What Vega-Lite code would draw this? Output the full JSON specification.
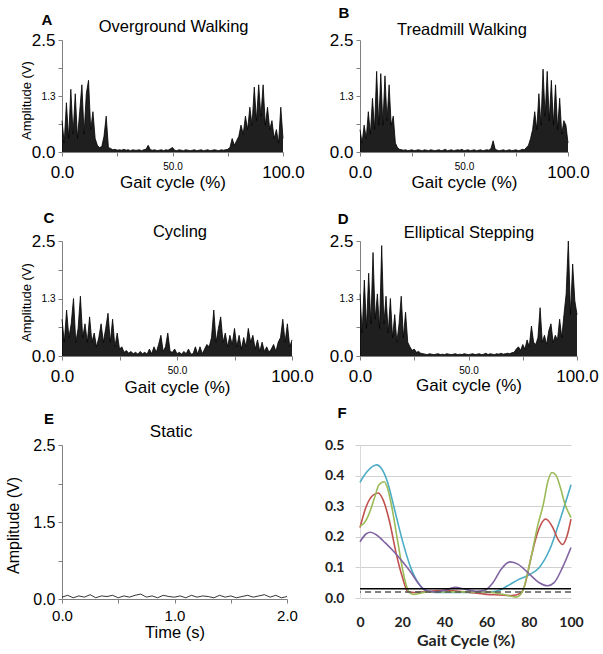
{
  "$schema": "https://vega.github.io/schema/vega-lite/v6.json",
  "background": "white",
  "padding": {"left": 5, "top": 5, "right": 5, "bottom": 5},
  "columns": 2,
  "bounds": "flush",
  "spacing": {"row": 89, "column": 68},
  "datasets": {
    "A": [{"x":0,"y":0.7},{"x":1,"y":0.2},{"x":2,"y":1.1},{"x":3,"y":0.3},{"x":4,"y":1.4},{"x":5,"y":0.4},{"x":6,"y":1.3},{"x":7,"y":0.3},{"x":8,"y":0.9},{"x":9,"y":1.5},{"x":10,"y":0.4},{"x":11,"y":1.3},{"x":12,"y":1.6},{"x":13,"y":0.5},{"x":14,"y":0.9},{"x":15,"y":0.3},{"x":16,"y":0.15},{"x":17,"y":0.1},{"x":18,"y":0.12},{"x":19,"y":0.35},{"x":20,"y":0.8},{"x":21,"y":0.1},{"x":22,"y":0.08},{"x":23,"y":0.05},{"x":24,"y":0.06},{"x":25,"y":0.04},{"x":26,"y":0.05},{"x":27,"y":0.04},{"x":28,"y":0.06},{"x":29,"y":0.04},{"x":30,"y":0.05},{"x":31,"y":0.03},{"x":32,"y":0.05},{"x":33,"y":0.04},{"x":34,"y":0.04},{"x":35,"y":0.05},{"x":36,"y":0.03},{"x":37,"y":0.05},{"x":38,"y":0.06},{"x":39,"y":0.15},{"x":40,"y":0.05},{"x":41,"y":0.04},{"x":42,"y":0.05},{"x":43,"y":0.03},{"x":44,"y":0.04},{"x":45,"y":0.05},{"x":46,"y":0.03},{"x":47,"y":0.05},{"x":48,"y":0.04},{"x":49,"y":0.07},{"x":50,"y":0.1},{"x":51,"y":0.04},{"x":52,"y":0.03},{"x":53,"y":0.05},{"x":54,"y":0.04},{"x":55,"y":0.03},{"x":56,"y":0.05},{"x":57,"y":0.04},{"x":58,"y":0.03},{"x":59,"y":0.04},{"x":60,"y":0.05},{"x":61,"y":0.03},{"x":62,"y":0.04},{"x":63,"y":0.05},{"x":64,"y":0.03},{"x":65,"y":0.04},{"x":66,"y":0.05},{"x":67,"y":0.03},{"x":68,"y":0.04},{"x":69,"y":0.05},{"x":70,"y":0.04},{"x":71,"y":0.03},{"x":72,"y":0.05},{"x":73,"y":0.04},{"x":74,"y":0.05},{"x":75,"y":0.06},{"x":76,"y":0.1},{"x":77,"y":0.3},{"x":78,"y":0.15},{"x":79,"y":0.25},{"x":80,"y":0.35},{"x":81,"y":0.6},{"x":82,"y":0.4},{"x":83,"y":0.8},{"x":84,"y":0.5},{"x":85,"y":1.0},{"x":86,"y":0.6},{"x":87,"y":1.45},{"x":88,"y":0.7},{"x":89,"y":1.5},{"x":90,"y":0.8},{"x":91,"y":1.5},{"x":92,"y":0.6},{"x":93,"y":1.0},{"x":94,"y":0.5},{"x":95,"y":0.7},{"x":96,"y":0.3},{"x":97,"y":0.5},{"x":98,"y":0.2},{"x":99,"y":1.0},{"x":100,"y":0.3}],
    "B": [{"x":0,"y":0.5},{"x":1,"y":0.2},{"x":2,"y":0.6},{"x":3,"y":0.3},{"x":4,"y":0.9},{"x":5,"y":0.4},{"x":6,"y":1.2},{"x":7,"y":0.5},{"x":8,"y":1.8},{"x":9,"y":0.6},{"x":10,"y":1.75},{"x":11,"y":0.6},{"x":12,"y":1.7},{"x":13,"y":0.7},{"x":14,"y":1.5},{"x":15,"y":0.6},{"x":16,"y":0.8},{"x":17,"y":0.2},{"x":18,"y":0.1},{"x":19,"y":0.06},{"x":20,"y":0.05},{"x":21,"y":0.04},{"x":22,"y":0.05},{"x":23,"y":0.03},{"x":24,"y":0.04},{"x":25,"y":0.05},{"x":26,"y":0.03},{"x":27,"y":0.04},{"x":28,"y":0.05},{"x":29,"y":0.04},{"x":30,"y":0.03},{"x":31,"y":0.05},{"x":32,"y":0.04},{"x":33,"y":0.03},{"x":34,"y":0.05},{"x":35,"y":0.04},{"x":36,"y":0.03},{"x":37,"y":0.04},{"x":38,"y":0.05},{"x":39,"y":0.03},{"x":40,"y":0.04},{"x":41,"y":0.06},{"x":42,"y":0.03},{"x":43,"y":0.04},{"x":44,"y":0.05},{"x":45,"y":0.03},{"x":46,"y":0.04},{"x":47,"y":0.05},{"x":48,"y":0.04},{"x":49,"y":0.06},{"x":50,"y":0.03},{"x":51,"y":0.04},{"x":52,"y":0.05},{"x":53,"y":0.03},{"x":54,"y":0.04},{"x":55,"y":0.05},{"x":56,"y":0.03},{"x":57,"y":0.04},{"x":58,"y":0.05},{"x":59,"y":0.03},{"x":60,"y":0.04},{"x":61,"y":0.05},{"x":62,"y":0.04},{"x":63,"y":0.08},{"x":64,"y":0.25},{"x":65,"y":0.06},{"x":66,"y":0.04},{"x":67,"y":0.03},{"x":68,"y":0.04},{"x":69,"y":0.05},{"x":70,"y":0.03},{"x":71,"y":0.04},{"x":72,"y":0.05},{"x":73,"y":0.03},{"x":74,"y":0.04},{"x":75,"y":0.05},{"x":76,"y":0.03},{"x":77,"y":0.04},{"x":78,"y":0.06},{"x":79,"y":0.05},{"x":80,"y":0.1},{"x":81,"y":0.15},{"x":82,"y":0.3},{"x":83,"y":0.5},{"x":84,"y":0.9},{"x":85,"y":0.5},{"x":86,"y":1.3},{"x":87,"y":0.6},{"x":88,"y":1.85},{"x":89,"y":0.8},{"x":90,"y":1.8},{"x":91,"y":0.7},{"x":92,"y":1.6},{"x":93,"y":0.6},{"x":94,"y":1.5},{"x":95,"y":0.5},{"x":96,"y":1.2},{"x":97,"y":0.4},{"x":98,"y":0.7},{"x":99,"y":0.6},{"x":100,"y":0.2}],
    "C": [{"x":0,"y":0.8},{"x":1,"y":0.3},{"x":2,"y":1.0},{"x":3,"y":0.4},{"x":4,"y":0.7},{"x":5,"y":1.25},{"x":6,"y":0.3},{"x":7,"y":0.6},{"x":8,"y":1.3},{"x":9,"y":0.4},{"x":10,"y":0.7},{"x":11,"y":0.3},{"x":12,"y":0.85},{"x":13,"y":0.3},{"x":14,"y":0.5},{"x":15,"y":0.2},{"x":16,"y":0.4},{"x":17,"y":0.7},{"x":18,"y":0.3},{"x":19,"y":0.6},{"x":20,"y":0.93},{"x":21,"y":0.3},{"x":22,"y":0.8},{"x":23,"y":0.2},{"x":24,"y":0.5},{"x":25,"y":0.15},{"x":26,"y":0.2},{"x":27,"y":0.08},{"x":28,"y":0.12},{"x":29,"y":0.06},{"x":30,"y":0.1},{"x":31,"y":0.05},{"x":32,"y":0.08},{"x":33,"y":0.04},{"x":34,"y":0.1},{"x":35,"y":0.05},{"x":36,"y":0.08},{"x":37,"y":0.04},{"x":38,"y":0.15},{"x":39,"y":0.05},{"x":40,"y":0.2},{"x":41,"y":0.08},{"x":42,"y":0.25},{"x":43,"y":0.45},{"x":44,"y":0.1},{"x":45,"y":0.2},{"x":46,"y":0.5},{"x":47,"y":0.1},{"x":48,"y":0.08},{"x":49,"y":0.15},{"x":50,"y":0.05},{"x":51,"y":0.08},{"x":52,"y":0.04},{"x":53,"y":0.1},{"x":54,"y":0.05},{"x":55,"y":0.15},{"x":56,"y":0.04},{"x":57,"y":0.05},{"x":58,"y":0.2},{"x":59,"y":0.04},{"x":60,"y":0.2},{"x":61,"y":0.05},{"x":62,"y":0.15},{"x":63,"y":0.25},{"x":64,"y":0.2},{"x":65,"y":0.4},{"x":66,"y":1.0},{"x":67,"y":0.3},{"x":68,"y":0.6},{"x":69,"y":0.85},{"x":70,"y":0.3},{"x":71,"y":0.5},{"x":72,"y":0.2},{"x":73,"y":0.45},{"x":74,"y":0.25},{"x":75,"y":0.6},{"x":76,"y":0.2},{"x":77,"y":0.45},{"x":78,"y":0.15},{"x":79,"y":0.4},{"x":80,"y":0.2},{"x":81,"y":0.6},{"x":82,"y":0.3},{"x":83,"y":0.45},{"x":84,"y":0.15},{"x":85,"y":0.35},{"x":86,"y":0.1},{"x":87,"y":0.3},{"x":88,"y":0.1},{"x":89,"y":0.2},{"x":90,"y":0.08},{"x":91,"y":0.15},{"x":92,"y":0.25},{"x":93,"y":0.1},{"x":94,"y":0.3},{"x":95,"y":0.4},{"x":96,"y":0.8},{"x":97,"y":0.3},{"x":98,"y":0.7},{"x":99,"y":0.2},{"x":100,"y":0.35}],
    "D": [{"x":0,"y":1.35},{"x":1,"y":0.5},{"x":2,"y":1.65},{"x":3,"y":0.6},{"x":4,"y":1.8},{"x":5,"y":0.7},{"x":6,"y":2.25},{"x":7,"y":0.8},{"x":8,"y":1.35},{"x":9,"y":0.6},{"x":10,"y":2.4},{"x":11,"y":0.7},{"x":12,"y":1.3},{"x":13,"y":0.5},{"x":14,"y":1.25},{"x":15,"y":0.4},{"x":16,"y":0.9},{"x":17,"y":0.3},{"x":18,"y":0.7},{"x":19,"y":1.3},{"x":20,"y":0.4},{"x":21,"y":0.95},{"x":22,"y":0.3},{"x":23,"y":0.2},{"x":24,"y":0.12},{"x":25,"y":0.15},{"x":26,"y":0.08},{"x":27,"y":0.1},{"x":28,"y":0.06},{"x":29,"y":0.05},{"x":30,"y":0.04},{"x":31,"y":0.03},{"x":32,"y":0.05},{"x":33,"y":0.04},{"x":34,"y":0.03},{"x":35,"y":0.04},{"x":36,"y":0.05},{"x":37,"y":0.03},{"x":38,"y":0.04},{"x":39,"y":0.03},{"x":40,"y":0.05},{"x":41,"y":0.04},{"x":42,"y":0.03},{"x":43,"y":0.04},{"x":44,"y":0.05},{"x":45,"y":0.03},{"x":46,"y":0.04},{"x":47,"y":0.03},{"x":48,"y":0.05},{"x":49,"y":0.04},{"x":50,"y":0.03},{"x":51,"y":0.04},{"x":52,"y":0.05},{"x":53,"y":0.03},{"x":54,"y":0.04},{"x":55,"y":0.05},{"x":56,"y":0.03},{"x":57,"y":0.04},{"x":58,"y":0.06},{"x":59,"y":0.03},{"x":60,"y":0.05},{"x":61,"y":0.04},{"x":62,"y":0.03},{"x":63,"y":0.05},{"x":64,"y":0.04},{"x":65,"y":0.06},{"x":66,"y":0.04},{"x":67,"y":0.05},{"x":68,"y":0.06},{"x":69,"y":0.05},{"x":70,"y":0.07},{"x":71,"y":0.08},{"x":72,"y":0.15},{"x":73,"y":0.2},{"x":74,"y":0.12},{"x":75,"y":0.25},{"x":76,"y":0.15},{"x":77,"y":0.35},{"x":78,"y":0.2},{"x":79,"y":0.65},{"x":80,"y":0.3},{"x":81,"y":0.25},{"x":82,"y":0.4},{"x":83,"y":1.05},{"x":84,"y":0.3},{"x":85,"y":0.45},{"x":86,"y":0.25},{"x":87,"y":0.55},{"x":88,"y":0.7},{"x":89,"y":0.3},{"x":90,"y":0.45},{"x":91,"y":0.35},{"x":92,"y":0.8},{"x":93,"y":0.4},{"x":94,"y":0.9},{"x":95,"y":1.35},{"x":96,"y":2.5},{"x":97,"y":0.9},{"x":98,"y":2.0},{"x":99,"y":1.2},{"x":100,"y":0.9}],
    "E": [{"x":0,"y":0.03},{"x":0.05,"y":0.06},{"x":0.1,"y":0.02},{"x":0.15,"y":0.05},{"x":0.2,"y":0.03},{"x":0.25,"y":0.07},{"x":0.3,"y":0.02},{"x":0.35,"y":0.05},{"x":0.4,"y":0.04},{"x":0.45,"y":0.06},{"x":0.5,"y":0.02},{"x":0.55,"y":0.05},{"x":0.6,"y":0.03},{"x":0.65,"y":0.06},{"x":0.7,"y":0.08},{"x":0.75,"y":0.03},{"x":0.8,"y":0.05},{"x":0.85,"y":0.02},{"x":0.9,"y":0.06},{"x":0.95,"y":0.04},{"x":1.0,"y":0.03},{"x":1.05,"y":0.05},{"x":1.1,"y":0.02},{"x":1.15,"y":0.06},{"x":1.2,"y":0.03},{"x":1.25,"y":0.05},{"x":1.3,"y":0.04},{"x":1.35,"y":0.02},{"x":1.4,"y":0.06},{"x":1.45,"y":0.03},{"x":1.5,"y":0.05},{"x":1.55,"y":0.02},{"x":1.6,"y":0.04},{"x":1.65,"y":0.06},{"x":1.7,"y":0.03},{"x":1.75,"y":0.05},{"x":1.8,"y":0.07},{"x":1.85,"y":0.03},{"x":1.9,"y":0.06},{"x":1.95,"y":0.02},{"x":2.0,"y":0.04}],
    "F": [
      {"s":"blue","x":0,"y":0.378},{"s":"blue","x":3,"y":0.41},{"s":"blue","x":6,"y":0.43},{"s":"blue","x":8,"y":0.435},{"s":"blue","x":10,"y":0.425},{"s":"blue","x":13,"y":0.38},{"s":"blue","x":16,"y":0.3},{"s":"blue","x":20,"y":0.19},{"s":"blue","x":24,"y":0.1},{"s":"blue","x":28,"y":0.045},{"s":"blue","x":32,"y":0.022},{"s":"blue","x":36,"y":0.018},{"s":"blue","x":45,"y":0.018},{"s":"blue","x":55,"y":0.018},{"s":"blue","x":62,"y":0.02},{"s":"blue","x":66,"y":0.025},{"s":"blue","x":70,"y":0.04},{"s":"blue","x":75,"y":0.06},{"s":"blue","x":80,"y":0.075},{"s":"blue","x":85,"y":0.1},{"s":"blue","x":90,"y":0.16},{"s":"blue","x":95,"y":0.26},{"s":"blue","x":100,"y":0.37},
      {"s":"red","x":0,"y":0.23},{"s":"red","x":3,"y":0.3},{"s":"red","x":6,"y":0.335},{"s":"red","x":8.7,"y":0.343},{"s":"red","x":11,"y":0.32},{"s":"red","x":14,"y":0.25},{"s":"red","x":17,"y":0.15},{"s":"red","x":20,"y":0.07},{"s":"red","x":22.8,"y":0.02},{"s":"red","x":26,"y":0.018},{"s":"red","x":30,"y":0.02},{"s":"red","x":40,"y":0.025},{"s":"red","x":50,"y":0.02},{"s":"red","x":60,"y":0.012},{"s":"red","x":66,"y":0.01},{"s":"red","x":72,"y":0.008},{"s":"red","x":76,"y":0.015},{"s":"red","x":78,"y":0.04},{"s":"red","x":81,"y":0.13},{"s":"red","x":84,"y":0.21},{"s":"red","x":88,"y":0.258},{"s":"red","x":91,"y":0.235},{"s":"red","x":94,"y":0.19},{"s":"red","x":96,"y":0.175},{"s":"red","x":98,"y":0.2},{"s":"red","x":100,"y":0.258},
      {"s":"green","x":0,"y":0.235},{"s":"green","x":2,"y":0.245},{"s":"green","x":4,"y":0.27},{"s":"green","x":7,"y":0.33},{"s":"green","x":9,"y":0.37},{"s":"green","x":11.5,"y":0.38},{"s":"green","x":13,"y":0.36},{"s":"green","x":15,"y":0.3},{"s":"green","x":18,"y":0.18},{"s":"green","x":20,"y":0.1},{"s":"green","x":22,"y":0.04},{"s":"green","x":24,"y":0.015},{"s":"green","x":26,"y":0.012},{"s":"green","x":28,"y":0.015},{"s":"green","x":32,"y":0.02},{"s":"green","x":40,"y":0.02},{"s":"green","x":50,"y":0.02},{"s":"green","x":60,"y":0.02},{"s":"green","x":66,"y":0.015},{"s":"green","x":70,"y":0.008},{"s":"green","x":74,"y":0.003},{"s":"green","x":77,"y":0.02},{"s":"green","x":79,"y":0.07},{"s":"green","x":81,"y":0.13},{"s":"green","x":84,"y":0.23},{"s":"green","x":87,"y":0.31},{"s":"green","x":89,"y":0.38},{"s":"green","x":91,"y":0.41},{"s":"green","x":93,"y":0.4},{"s":"green","x":95,"y":0.36},{"s":"green","x":97,"y":0.31},{"s":"green","x":100,"y":0.263},
      {"s":"purple","x":0,"y":0.184},{"s":"purple","x":3,"y":0.21},{"s":"purple","x":5,"y":0.215},{"s":"purple","x":8,"y":0.205},{"s":"purple","x":12,"y":0.18},{"s":"purple","x":16,"y":0.152},{"s":"purple","x":20,"y":0.12},{"s":"purple","x":24,"y":0.085},{"s":"purple","x":28,"y":0.045},{"s":"purple","x":31,"y":0.025},{"s":"purple","x":35,"y":0.02},{"s":"purple","x":40,"y":0.025},{"s":"purple","x":45,"y":0.035},{"s":"purple","x":50,"y":0.028},{"s":"purple","x":55,"y":0.022},{"s":"purple","x":59,"y":0.025},{"s":"purple","x":63,"y":0.05},{"s":"purple","x":67,"y":0.095},{"s":"purple","x":71,"y":0.118},{"s":"purple","x":75,"y":0.11},{"s":"purple","x":80,"y":0.08},{"s":"purple","x":85,"y":0.05},{"s":"purple","x":89,"y":0.04},{"s":"purple","x":92,"y":0.05},{"s":"purple","x":96,"y":0.1},{"s":"purple","x":100,"y":0.165}
    ],
    "Fth": [{"t":"solid","y":0.03},{"t":"dashed","y":0.02}]
  },
  "concat": [
    {
      "width": 221, "height": 112,
      "layer": [
        {"data": {"name": "A"},
          "mark": {"type": "area", "color": "#000", "opacity": 0.88, "line": {"color": "#000", "strokeWidth": 0.8}},
          "encoding": {
            "x": {"field": "x", "type": "quantitative", "scale": {"domain": [0, 100], "nice": false},
              "axis": {"values": [0, 25, 50, 75, 100],
                "labelExpr": "datum.value == 0 ? '0.0' : datum.value == 50 ? '50.0' : datum.value == 100 ? '100.0' : ''",
                "labelFontSize": {"condition": {"test": "datum.value == 50", "value": 10}, "value": 17},
                "labelPadding": {"condition": {"test": "datum.value == 50", "value": 5}, "value": 8},
                "title": "Gait cycle (%)", "titleFontSize": 17, "titleY": 30, "titleBaseline": "middle"}},
            "y": {"field": "y", "type": "quantitative", "scale": {"domain": [0, 2.5], "nice": false},
              "axis": {"values": [0, 0.625, 1.25, 1.875, 2.5],
                "labelExpr": "datum.value == 0 ? '0.0' : datum.value == 1.25 ? '1.3' : datum.value == 2.5 ? '2.5' : ''",
                "labelFontSize": {"condition": {"test": "datum.value == 1.25", "value": 10}, "value": 17},
                "labelPadding": 3,
                "title": "Amplitude (V)", "titleFontSize": 13, "titleX": -36, "titleY": 60, "titleBaseline": "middle"}}
          }},
        {"data": {"values": [{"label": "Overground Walking"}]}, "mark": {"type": "text", "fontSize": 16.5, "align": "center", "baseline": "middle"},
          "encoding": {"text": {"field": "label"}, "x": {"datum": 50.5}, "y": {"datum": 2.79}}},
        {"data": {"values": [{"label": "A"}]}, "mark": {"type": "text", "fontSize": 15, "fontWeight": "bold", "align": "center", "baseline": "middle"},
          "encoding": {"text": {"field": "label"}, "x": {"datum": -6.8}, "y": {"datum": 2.95}}}
      ]
    },
    {
      "width": 208, "height": 112,
      "layer": [
        {"data": {"name": "B"},
          "mark": {"type": "area", "color": "#000", "opacity": 0.88, "line": {"color": "#000", "strokeWidth": 0.8}},
          "encoding": {
            "x": {"field": "x", "type": "quantitative", "scale": {"domain": [0, 100], "nice": false},
              "axis": {"values": [0, 25, 50, 75, 100],
                "labelExpr": "datum.value == 0 ? '0.0' : datum.value == 50 ? '50.0' : datum.value == 100 ? '100.0' : ''",
                "labelFontSize": {"condition": {"test": "datum.value == 50", "value": 10}, "value": 17},
                "labelPadding": {"condition": {"test": "datum.value == 50", "value": 5}, "value": 8},
                "title": "Gait cycle (%)", "titleFontSize": 17, "titleY": 30, "titleBaseline": "middle"}},
            "y": {"field": "y", "type": "quantitative", "scale": {"domain": [0, 2.5], "nice": false},
              "axis": {"values": [0, 0.625, 1.25, 1.875, 2.5],
                "labelExpr": "datum.value == 0 ? '0.0' : datum.value == 1.25 ? '1.3' : datum.value == 2.5 ? '2.5' : ''",
                "labelFontSize": {"condition": {"test": "datum.value == 1.25", "value": 10}, "value": 17},
                "labelPadding": 3, "title": null}}
          }},
        {"data": {"values": [{"label": "Treadmill Walking"}]}, "mark": {"type": "text", "fontSize": 16.5, "align": "center", "baseline": "middle"},
          "encoding": {"text": {"field": "label"}, "x": {"datum": 49}, "y": {"datum": 2.72}}},
        {"data": {"values": [{"label": "B"}]}, "mark": {"type": "text", "fontSize": 15, "fontWeight": "bold", "align": "center", "baseline": "middle"},
          "encoding": {"text": {"field": "label"}, "x": {"datum": -7.7}, "y": {"datum": 3.11}}}
      ]
    },
    {
      "width": 230, "height": 115,
      "layer": [
        {"data": {"name": "C"},
          "mark": {"type": "area", "color": "#000", "opacity": 0.88, "line": {"color": "#000", "strokeWidth": 0.8}},
          "encoding": {
            "x": {"field": "x", "type": "quantitative", "scale": {"domain": [0, 100], "nice": false},
              "axis": {"values": [0, 25, 50, 75, 100],
                "labelExpr": "datum.value == 0 ? '0.0' : datum.value == 50 ? '50.0' : datum.value == 100 ? '100.0' : ''",
                "labelFontSize": {"condition": {"test": "datum.value == 50", "value": 10}, "value": 17},
                "labelPadding": {"condition": {"test": "datum.value == 50", "value": 5}, "value": 8},
                "title": "Gait cycle (%)", "titleFontSize": 17, "titleY": 31, "titleBaseline": "middle"}},
            "y": {"field": "y", "type": "quantitative", "scale": {"domain": [0, 2.5], "nice": false},
              "axis": {"values": [0, 0.625, 1.25, 1.875, 2.5],
                "labelExpr": "datum.value == 0 ? '0.0' : datum.value == 1.25 ? '1.3' : datum.value == 2.5 ? '2.5' : ''",
                "labelFontSize": {"condition": {"test": "datum.value == 1.25", "value": 10}, "value": 17},
                "labelPadding": 3,
                "title": "Amplitude (V)", "titleFontSize": 13, "titleX": -36, "titleY": 61, "titleBaseline": "middle"}}
          }},
        {"data": {"values": [{"label": "Cycling"}]}, "mark": {"type": "text", "fontSize": 16.5, "align": "center", "baseline": "middle"},
          "encoding": {"text": {"field": "label"}, "x": {"datum": 51.3}, "y": {"datum": 2.7}}},
        {"data": {"values": [{"label": "C"}]}, "mark": {"type": "text", "fontSize": 15, "fontWeight": "bold", "align": "center", "baseline": "middle"},
          "encoding": {"text": {"field": "label"}, "x": {"datum": -5.65}, "y": {"datum": 3.0}}}
      ]
    },
    {
      "width": 217, "height": 115,
      "layer": [
        {"data": {"name": "D"},
          "mark": {"type": "area", "color": "#000", "opacity": 0.88, "line": {"color": "#000", "strokeWidth": 0.8}},
          "encoding": {
            "x": {"field": "x", "type": "quantitative", "scale": {"domain": [0, 100], "nice": false},
              "axis": {"values": [0, 25, 50, 75, 100],
                "labelExpr": "datum.value == 0 ? '0.0' : datum.value == 50 ? '50.0' : datum.value == 100 ? '100.0' : ''",
                "labelFontSize": {"condition": {"test": "datum.value == 50", "value": 10}, "value": 17},
                "labelPadding": {"condition": {"test": "datum.value == 50", "value": 5}, "value": 8},
                "title": "Gait cycle (%)", "titleFontSize": 17, "titleY": 29, "titleBaseline": "middle"}},
            "y": {"field": "y", "type": "quantitative", "scale": {"domain": [0, 2.5], "nice": false},
              "axis": {"values": [0, 0.625, 1.25, 1.875, 2.5],
                "labelExpr": "datum.value == 0 ? '0.0' : datum.value == 1.25 ? '1.3' : datum.value == 2.5 ? '2.5' : ''",
                "labelFontSize": {"condition": {"test": "datum.value == 1.25", "value": 10}, "value": 17},
                "labelPadding": 3, "title": null}}
          }},
        {"data": {"values": [{"label": "Elliptical Stepping"}]}, "mark": {"type": "text", "fontSize": 16.5, "align": "center", "baseline": "middle"},
          "encoding": {"text": {"field": "label"}, "x": {"datum": 50.2}, "y": {"datum": 2.67}}},
        {"data": {"values": [{"label": "D"}]}, "mark": {"type": "text", "fontSize": 15, "fontWeight": "bold", "align": "center", "baseline": "middle"},
          "encoding": {"text": {"field": "label"}, "x": {"datum": -7.8}, "y": {"datum": 2.97}}}
      ]
    },
    {
      "width": 225, "height": 154,
      "layer": [
        {"data": {"name": "E"},
          "mark": {"type": "line", "color": "#000", "strokeWidth": 0.8},
          "encoding": {
            "x": {"field": "x", "type": "quantitative", "scale": {"domain": [0, 2], "nice": false},
              "axis": {"values": [0, 0.5, 1, 1.5, 2],
                "labelExpr": "datum.value == 0 ? '0.0' : datum.value == 1 ? '1.0' : datum.value == 2 ? '2.0' : ''",
                "labelFontSize": 15, "labelPadding": 5,
                "title": "Time (s)", "titleFontSize": 16.5, "titleY": 33, "titleBaseline": "middle"}},
            "y": {"field": "y", "type": "quantitative", "scale": {"domain": [0, 2.5], "nice": false},
              "axis": {"values": [0, 0.625, 1.25, 1.875, 2.5],
                "labelExpr": "datum.value == 0 ? '0.0' : datum.value == 1.25 ? '1.5' : datum.value == 2.5 ? '2.5' : ''",
                "labelFontSize": 16, "labelPadding": 3,
                "title": "Amplitude (V)", "titleFontSize": 16, "titleX": -49, "titleY": 80, "titleBaseline": "middle"}}
          }},
        {"data": {"values": [{"label": "Static"}]}, "mark": {"type": "text", "fontSize": 17, "align": "center", "baseline": "middle"},
          "encoding": {"text": {"field": "label"}, "x": {"datum": 0.97}, "y": {"datum": 2.71}}},
        {"data": {"values": [{"label": "E"}]}, "mark": {"type": "text", "fontSize": 15, "fontWeight": "bold", "align": "center", "baseline": "middle"},
          "encoding": {"text": {"field": "label"}, "x": {"datum": -0.116}, "y": {"datum": 2.92}}}
      ]
    },
    {
      "width": 211, "height": 153,
      "resolve": {"scale": {"color": "independent", "strokeDash": "independent"}},
      "layer": [
        {"data": {"name": "F"},
          "mark": {"type": "line", "interpolate": "monotone", "strokeWidth": 1.6},
          "encoding": {
            "x": {"field": "x", "type": "quantitative", "scale": {"domain": [0, 100], "nice": false},
              "axis": {"values": [0, 20, 40, 60, 80, 100], "domain": false, "ticks": false,
                "labelFont": "Lato", "labelFontWeight": "bold", "labelFontSize": 14, "labelColor": "#222", "labelPadding": 17,
                "title": "Gait Cycle (%)", "titleFont": "Lato", "titleFontWeight": "bold", "titleFontSize": 16, "titleColor": "#222", "titleY": 42, "titleBaseline": "middle"}},
            "y": {"field": "y", "type": "quantitative", "scale": {"domain": [0, 0.5], "nice": false},
              "axis": {"values": [0, 0.1, 0.2, 0.3, 0.4, 0.5], "format": ".1f", "grid": true, "gridColor": "#d0d0d0",
                "domain": true, "domainColor": "#d9d9d9", "ticks": true, "tickSize": 5, "tickColor": "#d0d0d0",
                "labelFont": "Lato", "labelFontWeight": "bold", "labelFontSize": 14, "labelColor": "#222", "labelPadding": 11, "title": null}},
            "color": {"field": "s", "type": "nominal", "scale": {"domain": ["blue", "red", "green", "purple"], "range": ["#4bacc6", "#c0504d", "#9bbb59", "#8064a2"]}, "legend": null}
          }
        },
        {"data": {"name": "Fth"},
          "mark": {"type": "rule", "strokeWidth": 1.5},
          "encoding": {
            "y": {"field": "y", "type": "quantitative", "scale": {"domain": [0, 0.5], "nice": false},
              "axis": {"values": [0, 0.1, 0.2, 0.3, 0.4, 0.5], "format": ".1f", "grid": true, "gridColor": "#d0d0d0",
                "domain": true, "domainColor": "#d9d9d9", "ticks": true, "tickSize": 5, "tickColor": "#d0d0d0",
                "labelFont": "Lato", "labelFontWeight": "bold", "labelFontSize": 14, "labelColor": "#222", "labelPadding": 11, "title": null}},
            "color": {"field": "t", "type": "nominal", "scale": {"domain": ["solid", "dashed"], "range": ["#000", "#555"]}, "legend": null},
            "strokeDash": {"field": "t", "type": "nominal", "scale": {"domain": ["solid", "dashed"], "range": [[1, 0], [6, 4]]}, "legend": null}
          }
        },
        {"data": {"values": [{"label": "F"}]}, "mark": {"type": "text", "fontSize": 15, "fontWeight": "bold", "align": "center", "baseline": "middle"},
          "encoding": {"text": {"field": "label"}, "x": {"datum": -8.5}, "y": {"datum": 0.605}}}
      ]
    }
  ],
  "config": {
    "view": {"stroke": null},
    "font": "Liberation Sans",
    "text": {"font": "Liberation Sans", "color": "#000"},
    "axis": {"labelColor": "#000", "titleColor": "#000", "titleFontWeight": "normal", "labelFont": "Liberation Sans", "titleFont": "Liberation Sans",
      "labelFlush": false, "labelOverlap": false, "labelBound": false, "grid": false, "tickCount": 20,
      "domainColor": "#808080", "tickColor": "#808080", "tickSize": 4}
  }
}
